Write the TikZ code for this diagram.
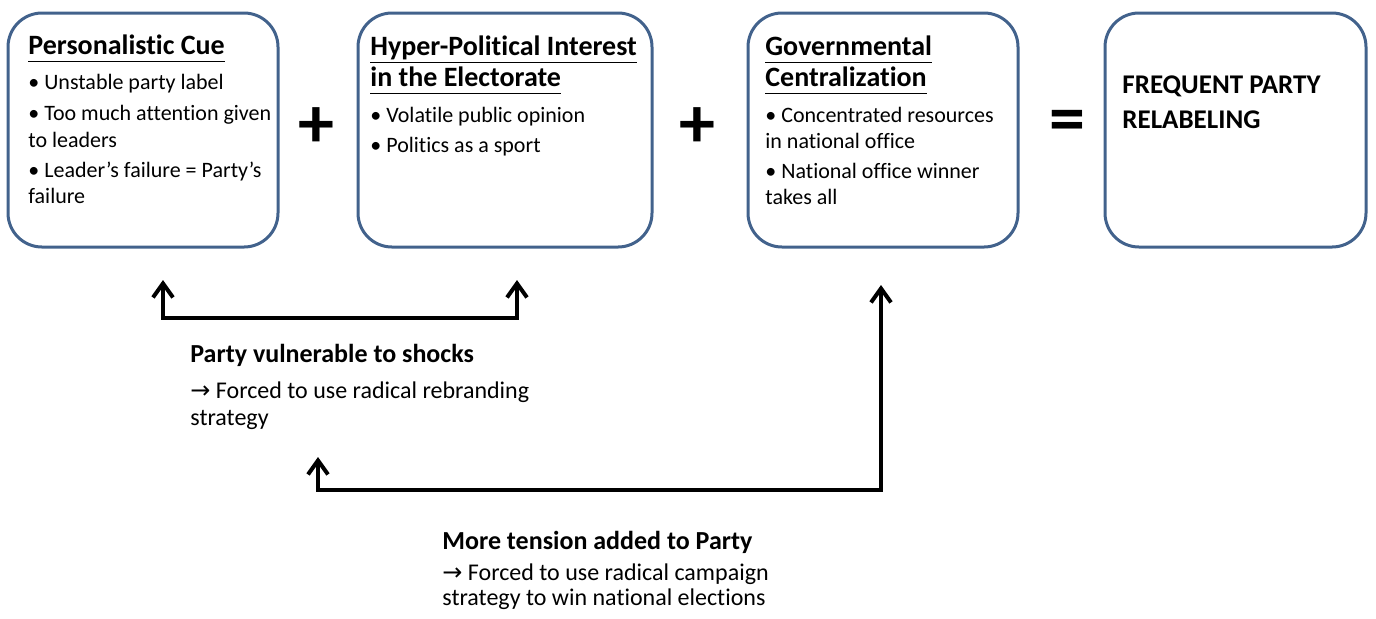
\documentclass[tikz,border=0pt]{standalone}
\usepackage{fontspec}
\setmainfont{Carlito}[Ligatures=NoCommon]
\newfontfamily\symfont{DejaVu Sans}
\usetikzlibrary{arrows.meta}
\definecolor{frame}{RGB}{66, 98, 140}

\tikzset{
  box/.style={draw=frame, line width=1.5pt, rounded corners=17pt,
    minimum width=135pt, minimum height=117pt},
  ttl/.style={anchor=base west, inner sep=0pt, font=\fontsize{14}{16}\selectfont\bfseries},
  itm/.style={anchor=base west, inner sep=0pt, font=\fontsize{11}{13}\selectfont},
  note/.style={anchor=base west, inner sep=0pt, font=\fontsize{12}{14}\selectfont},
  bnote/.style={note, font=\fontsize{13}{15}\selectfont\bfseries},
  sign/.style={inner sep=0pt, font=\fontsize{36}{36}\selectfont\bfseries},
  back/.style={line width=2pt,
    {Straight Barb[length=7pt,width=10pt]}-{Straight Barb[length=7pt,width=10pt]}},
}
\newcommand{\hd}[1]{\underline{#1\vphantom{y}}}
\newcommand{\ra}{{\symfont\fontsize{12}{14}\selectfont →}}

\begin{document}
\begin{tikzpicture}[x=0.5pt, y=-0.5pt]
  \useasboundingbox (0,0) rectangle (1376,618);

  % the four boxes
  \node[box] (cue)  at (143,130)  {};
  \node[box, minimum width=147pt] (hyp)  at (505,130) {};
  \node[box] (gov)  at (883,130)  {};
  \node[box, minimum width=130.5pt] (rel)  at (1235.5,130) {};

  \node[sign] (plus1) at (316,128) {+};
  \node[sign] (plus2) at (697,128) {+};
  \node[sign] (eq)    at (1067,126) {=};

  % box texts
  \node[ttl] (cueT) at (28,54) {\hd{Personalistic Cue}};
  \foreach \y/\t [count=\i] in {89/{• Unstable party label},
      120/{• Too much attention given}, 147/{to leaders},
      177/{• Leader’s failure = Party’s}, 203/{failure}} {
    \node[itm] (cue\i) at (28,\y) {\t};
  }

  \node[ttl] (hypT1) at (370,55) {\hd{Hyper-Political Interest}};
  \node[ttl] (hypT2) at (370,86) {\hd{in the Electorate}};
  \foreach \y/\t [count=\i] in {122/{• Volatile public opinion},
      152/{• Politics as a sport}} {
    \node[itm] (hyp\i) at (370,\y) {\t};
  }

  \node[ttl] (govT1) at (765,55) {\hd{Governmental}};
  \node[ttl] (govT2) at (765,86) {\hd{Centralization}};
  \foreach \y/\t [count=\i] in {122/{• Concentrated resources},
      148/{in national office}, 178/{• National office winner},
      204/{takes all}} {
    \node[itm] (gov\i) at (765,\y) {\t};
  }

  \node[ttl, font=\fontsize{13.5}{16}\selectfont\bfseries] (relT1) at (1122,93)  {FREQUENT PARTY};
  \node[ttl, font=\fontsize{13.5}{16}\selectfont\bfseries] (relT2) at (1122,128) {RELABELING};

  % feedback arrows
  \coordinate (a1) at (163,280);
  \coordinate (a2) at (517,280);
  \coordinate (b1) at (318,457);
  \coordinate (b2) at (881,285);
  \draw[back] (a1) -- (163,318) -| (a2);
  \draw[back] (b1) -- (318,490) -| (b2);

  \node[bnote] (shk) at (190,362) {Party vulnerable to shocks};
  \node[note] (shk1) at (190,398) {\ra\ Forced to use radical rebranding};
  \node[note] (shk2) at (190,425) {strategy};

  \node[bnote] (ten) at (442,549) {More tension added to Party};
  \node[note] (ten1) at (442,580) {\ra\ Forced to use radical campaign};
  \node[note] (ten2) at (442,605) {strategy to win national elections};
\end{tikzpicture}
\end{document}
